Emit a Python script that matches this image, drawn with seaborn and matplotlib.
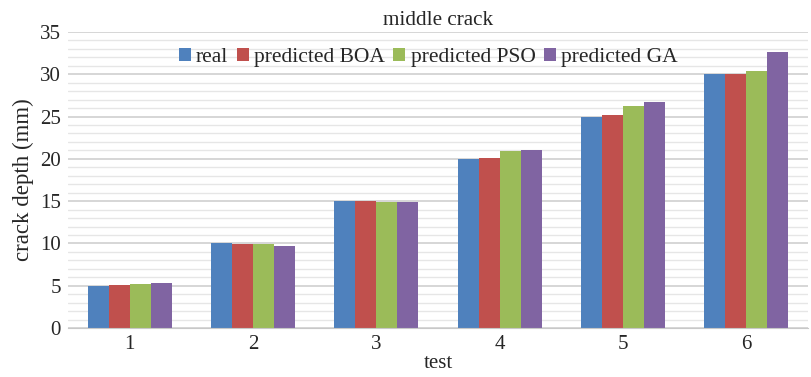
import matplotlib
matplotlib.use("Agg")
import matplotlib.pyplot as plt
import seaborn as sns
import pandas as pd
from matplotlib.ticker import MultipleLocator

tests = ["1", "2", "3", "4", "5", "6"]
real = [5.0, 10.0, 15.0, 20.0, 25.0, 30.0]
pred_boa = [5.05, 9.9, 15.05, 20.1, 25.2, 30.0]
pred_pso = [5.2, 9.9, 14.9, 20.9, 26.2, 30.4]
pred_ga = [5.35, 9.7, 14.85, 21.05, 26.7, 32.6]
series_names = ["real", "predicted BOA", "predicted PSO", "predicted GA"]
colors = ["#4F81BD", "#C0504D", "#9BBB59", "#8064A2"]

rows = []
for name, vals in zip(series_names, [real, pred_boa, pred_pso, pred_ga]):
    for t, v in zip(tests, vals):
        rows.append({"test": t, "depth": v, "series": name})
df = pd.DataFrame(rows)

sns.set_style("white")
plt.rcParams["font.family"] = ["Liberation Serif", "DejaVu Serif"]

fig = plt.figure(figsize=(8.12, 3.77), dpi=100)
ax = fig.add_axes([68 / 812, 1 - 328 / 377, 740 / 812, 296 / 377])

sns.barplot(data=df, x="test", y="depth", hue="series", hue_order=series_names,
            palette=colors, width=0.68, gap=0, saturation=1, ax=ax, legend=True,
            edgecolor="none")

ax.set_ylim(0, 35)
ax.yaxis.set_major_locator(MultipleLocator(5))
ax.yaxis.set_minor_locator(MultipleLocator(1))
ax.grid(axis="y", which="major", color="#d0d0d0", linewidth=1.2, zorder=0)
ax.grid(axis="y", which="minor", color="#e6e6e6", linewidth=1.0, zorder=0)
ax.grid(axis="x", visible=False)
ax.set_axisbelow(True)
for s in ["left", "right", "top"]:
    ax.spines[s].set_visible(False)
ax.spines["bottom"].set_color("#c8c8c8")
ax.tick_params(axis="both", length=0, labelsize=15, pad=5)
ax.tick_params(axis="y", which="minor", length=0)

ax.set_xlabel("test", fontsize=15, labelpad=0)
ax.set_ylabel("crack depth (mm)", fontsize=16.5, labelpad=4)
ax.set_title("middle crack", fontsize=15.2, pad=5)

leg = ax.legend(loc="upper center", bbox_to_anchor=(0.487, 0.975), ncol=4, frameon=False,
                fontsize=15.5, handlelength=0.55, handleheight=0.55, handletextpad=0.25,
                columnspacing=0.4, borderaxespad=0)

fig.savefig("out.png", dpi=100)
